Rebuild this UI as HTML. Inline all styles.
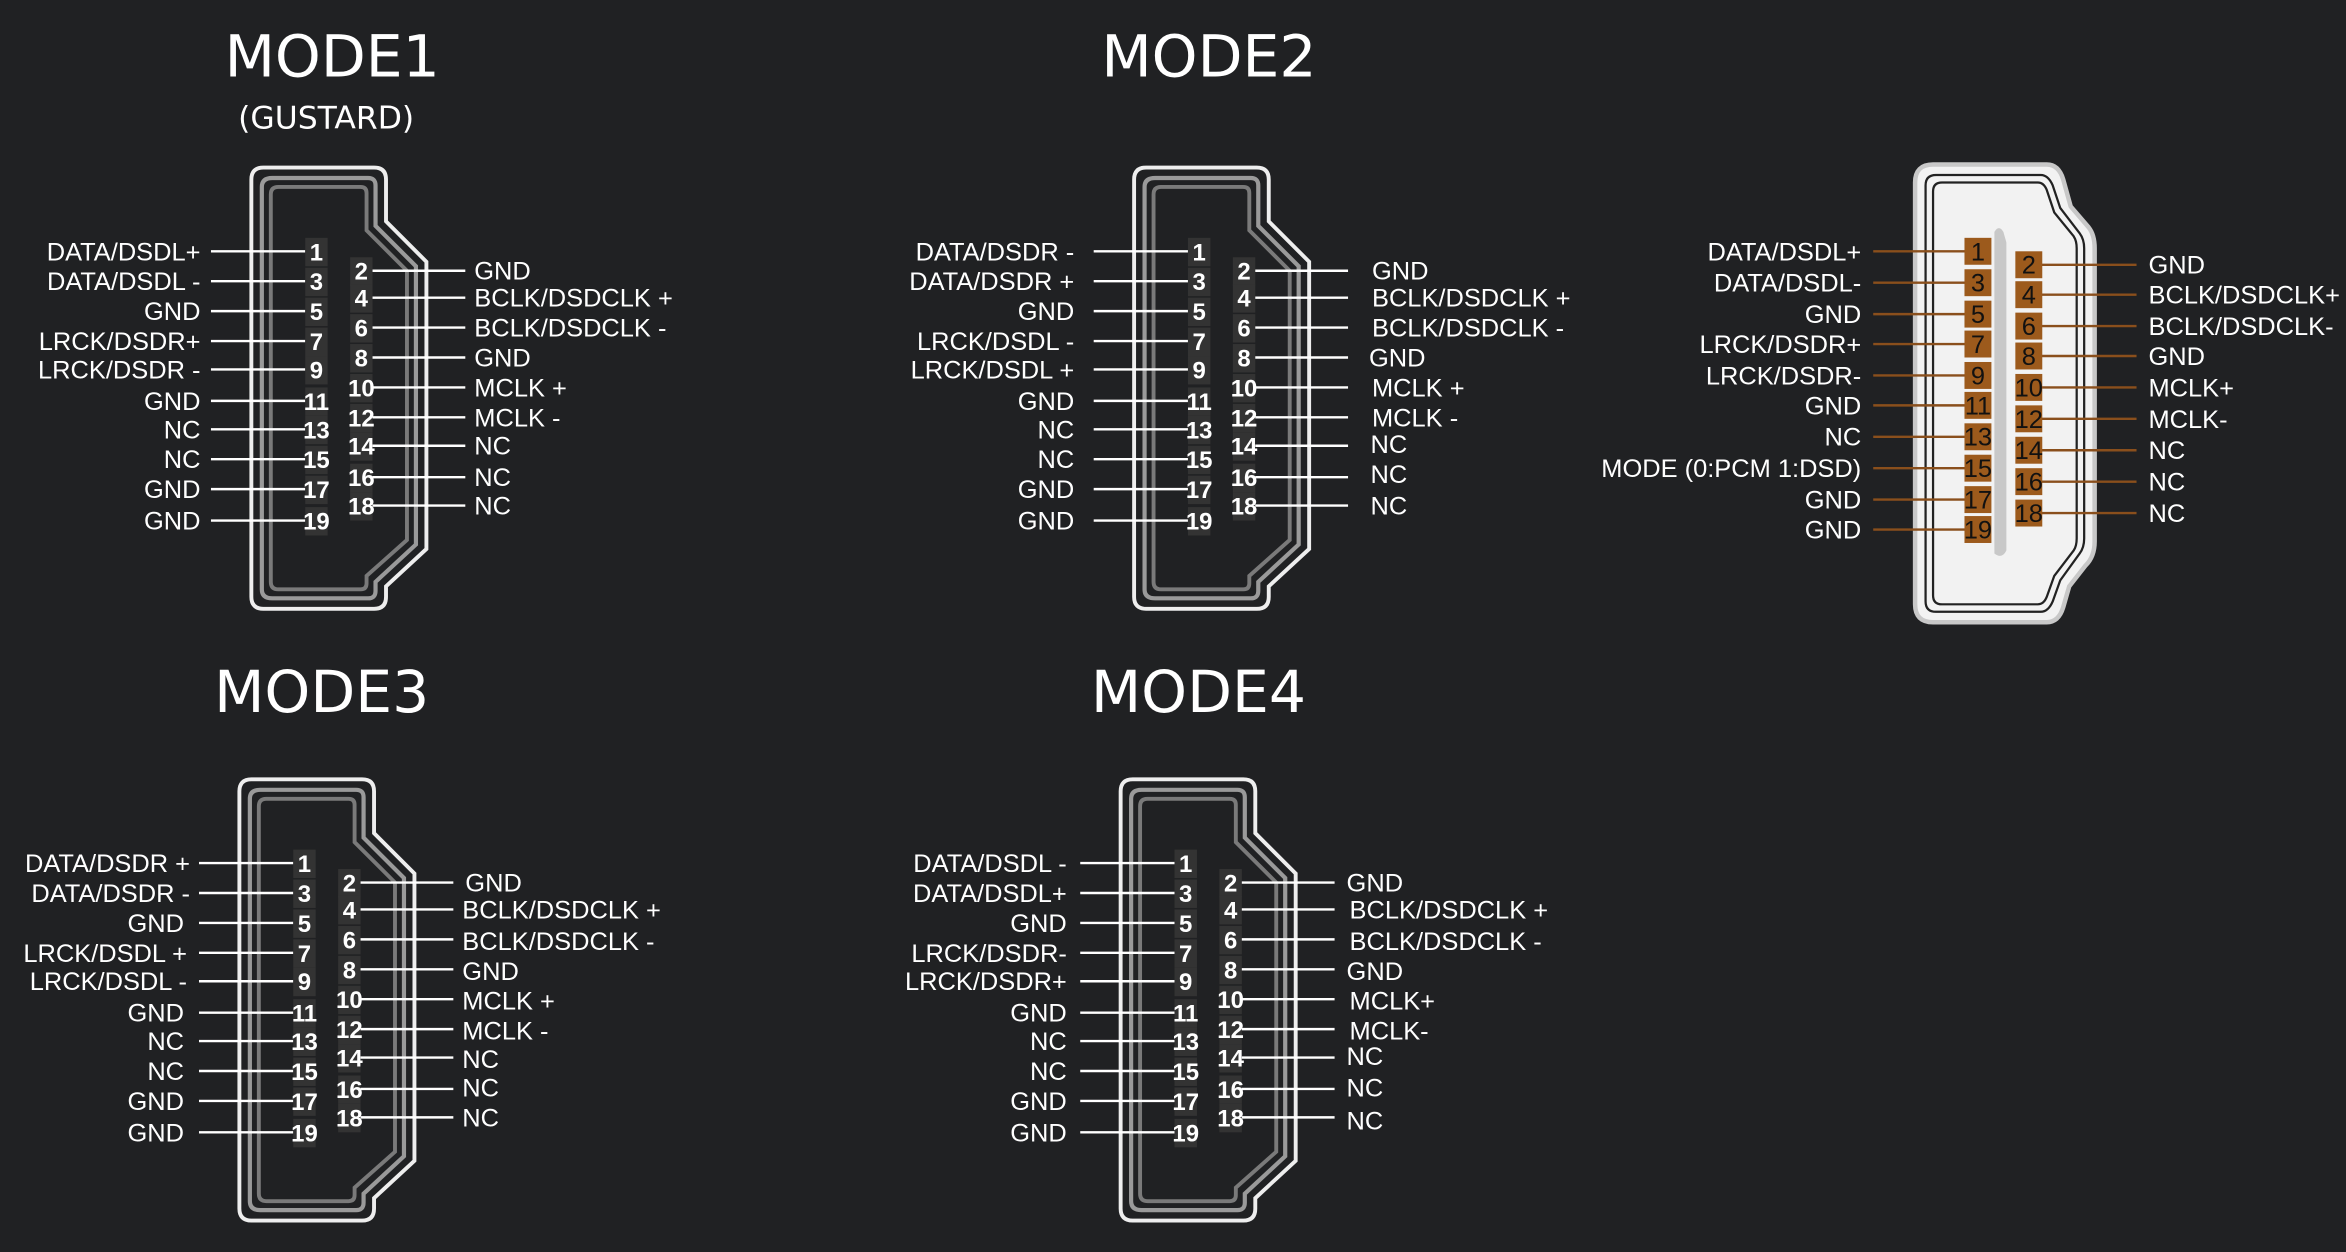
<!DOCTYPE html>
<html><head><meta charset="utf-8"><style>
html,body{margin:0;padding:0;background:#202123;}
svg{display:block}
.t{font-family:"DejaVu Sans","Liberation Sans",sans-serif;fill:#fff;text-anchor:middle}
.l{font-family:"Liberation Sans",sans-serif;font-size:17px;fill:#fff}
.e{text-anchor:end}
.n{font-family:"Liberation Sans",sans-serif;font-size:16px;font-weight:bold;fill:#fff;text-anchor:middle}
.nb{font-family:"Liberation Sans",sans-serif;font-size:17px;fill:#111;text-anchor:middle}
.w{stroke:#fff;stroke-width:1.6}
.b{stroke:#8a4f1c;stroke-width:1.6}
</style></head><body>
<svg width="2346" height="1252" viewBox="0 0 1568 837" preserveAspectRatio="none" xmlns="http://www.w3.org/2000/svg">
<rect width="1568" height="837" fill="#202123"/>
<defs>
<g id="conn">
<path d="M8,0 H82 Q90,0 90,8 V36 L117,63 V255 L90,280 V287 Q90,295 82,295 H8 Q0,295 0,287 V8 Q0,0 8,0 Z" fill="none" stroke="#eee" stroke-width="2.6"/>
<path d="M14,7 H78 Q83,7 83,12 V39 L110,66 V252 L83,277 V283 Q83,288 78,288 H14 Q7,288 7,282 V13 Q7,7 14,7 Z" fill="none" stroke="#9a9a9a" stroke-width="2.8"/>
<path d="M18,13 H73 Q77,13 77,17 V42 L104,69 V249 L77,273 V278 Q77,282 73,282 H18 Q13,282 13,277 V18 Q13,13 18,13 Z" fill="none" stroke="#7a7a7a" stroke-width="2.6"/>
</g>
<g id="pins">
<g class="w">
<line x1="-27" y1="56" x2="36" y2="56"/><line x1="-27" y1="76" x2="36" y2="76"/><line x1="-27" y1="96" x2="36" y2="96"/><line x1="-27" y1="116" x2="36" y2="116"/><line x1="-27" y1="135" x2="36" y2="135"/><line x1="-27" y1="156" x2="36" y2="156"/><line x1="-27" y1="175" x2="36" y2="175"/><line x1="-27" y1="195" x2="36" y2="195"/><line x1="-27" y1="215" x2="36" y2="215"/><line x1="-27" y1="236" x2="36" y2="236"/>
<line x1="80" y1="69" x2="143" y2="69"/><line x1="80" y1="87" x2="143" y2="87"/><line x1="80" y1="107" x2="143" y2="107"/><line x1="80" y1="127" x2="143" y2="127"/><line x1="80" y1="147" x2="143" y2="147"/><line x1="80" y1="167" x2="143" y2="167"/><line x1="80" y1="186" x2="143" y2="186"/><line x1="80" y1="207" x2="143" y2="207"/><line x1="80" y1="226" x2="143" y2="226"/>
</g>
<g fill="#333">
<rect x="36" y="47" width="15" height="19"/><rect x="36" y="67" width="15" height="19"/><rect x="36" y="87" width="15" height="19"/><rect x="36" y="107" width="15" height="19"/><rect x="36" y="126" width="15" height="19"/><rect x="36" y="147" width="15" height="19"/><rect x="36" y="166" width="15" height="19"/><rect x="36" y="186" width="15" height="19"/><rect x="36" y="206" width="15" height="19"/><rect x="36" y="227" width="15" height="19"/>
<rect x="66" y="60" width="15" height="19"/><rect x="66" y="78" width="15" height="19"/><rect x="66" y="98" width="15" height="19"/><rect x="66" y="118" width="15" height="19"/><rect x="66" y="138" width="15" height="19"/><rect x="66" y="158" width="15" height="19"/><rect x="66" y="177" width="15" height="19"/><rect x="66" y="198" width="15" height="19"/><rect x="66" y="217" width="15" height="19"/>
</g>
</g>
</defs>

<!-- Titles -->
<text class="t" x="222" y="51" font-size="39">MODE1</text>
<text class="t" x="218" y="86" font-size="21">(GUSTARD)</text>
<text class="t" x="808" y="51" font-size="39">MODE2</text>
<text class="t" x="215" y="476" font-size="39">MODE3</text>
<text class="t" x="801" y="476" font-size="39">MODE4</text>

<!-- MODE1 -->
<g transform="translate(168,112)">
<use href="#conn"/><use href="#pins"/>
<g class="n"><text x="43.5" y="62">1</text><text x="43.5" y="82">3</text><text x="43.5" y="102">5</text><text x="43.5" y="122">7</text><text x="43.5" y="141">9</text><text x="43.5" y="162">11</text><text x="43.5" y="181">13</text><text x="43.5" y="201">15</text><text x="43.5" y="221">17</text><text x="43.5" y="242">19</text>
<text x="73.5" y="75">2</text><text x="73.5" y="93">4</text><text x="73.5" y="113">6</text><text x="73.5" y="133">8</text><text x="73.5" y="153">10</text><text x="73.5" y="173">12</text><text x="73.5" y="192">14</text><text x="73.5" y="213">16</text><text x="73.5" y="232">18</text></g>
<g class="l e"><text x="-34" y="62">DATA/DSDL+</text><text x="-34" y="82">DATA/DSDL -</text><text x="-34" y="102">GND</text><text x="-34" y="122">LRCK/DSDR+</text><text x="-34" y="141">LRCK/DSDR -</text><text x="-34" y="162">GND</text><text x="-34" y="181">NC</text><text x="-34" y="201">NC</text><text x="-34" y="221">GND</text><text x="-34" y="242">GND</text></g>
<g class="l"><text x="149" y="75">GND</text><text x="149" y="93">BCLK/DSDCLK +</text><text x="149" y="113">BCLK/DSDCLK -</text><text x="149" y="133">GND</text><text x="149" y="153">MCLK +</text><text x="149" y="173">MCLK -</text><text x="149" y="192">NC</text><text x="149" y="213">NC</text><text x="149" y="232">NC</text></g>
</g>

<!-- MODE2 -->
<g transform="translate(758,112)">
<use href="#conn"/><use href="#pins"/>
<g class="n"><text x="43.5" y="62">1</text><text x="43.5" y="82">3</text><text x="43.5" y="102">5</text><text x="43.5" y="122">7</text><text x="43.5" y="141">9</text><text x="43.5" y="162">11</text><text x="43.5" y="181">13</text><text x="43.5" y="201">15</text><text x="43.5" y="221">17</text><text x="43.5" y="242">19</text>
<text x="73.5" y="75">2</text><text x="73.5" y="93">4</text><text x="73.5" y="113">6</text><text x="73.5" y="133">8</text><text x="73.5" y="153">10</text><text x="73.5" y="173">12</text><text x="73.5" y="192">14</text><text x="73.5" y="213">16</text><text x="73.5" y="232">18</text></g>
<g class="l e"><text x="-40" y="62">DATA/DSDR -</text><text x="-40" y="82">DATA/DSDR +</text><text x="-40" y="102">GND</text><text x="-40" y="122">LRCK/DSDL -</text><text x="-40" y="141">LRCK/DSDL +</text><text x="-40" y="162">GND</text><text x="-40" y="181">NC</text><text x="-40" y="201">NC</text><text x="-40" y="221">GND</text><text x="-40" y="242">GND</text></g>
<g class="l"><text x="159" y="75">GND</text><text x="159" y="93">BCLK/DSDCLK +</text><text x="159" y="113">BCLK/DSDCLK -</text><text x="157" y="133">GND</text><text x="159" y="153">MCLK +</text><text x="159" y="173">MCLK -</text><text x="158" y="191">NC</text><text x="158" y="211">NC</text><text x="158" y="232">NC</text></g>
</g>

<!-- MODE3 -->
<g transform="translate(160,521)">
<use href="#conn"/><use href="#pins"/>
<g class="n"><text x="43.5" y="62">1</text><text x="43.5" y="82">3</text><text x="43.5" y="102">5</text><text x="43.5" y="122">7</text><text x="43.5" y="141">9</text><text x="43.5" y="162">11</text><text x="43.5" y="181">13</text><text x="43.5" y="201">15</text><text x="43.5" y="221">17</text><text x="43.5" y="242">19</text>
<text x="73.5" y="75">2</text><text x="73.5" y="93">4</text><text x="73.5" y="113">6</text><text x="73.5" y="133">8</text><text x="73.5" y="153">10</text><text x="73.5" y="173">12</text><text x="73.5" y="192">14</text><text x="73.5" y="213">16</text><text x="73.5" y="232">18</text></g>
<g class="l e"><text x="-33" y="62">DATA/DSDR +</text><text x="-33" y="82">DATA/DSDR -</text><text x="-37" y="102">GND</text><text x="-35" y="122">LRCK/DSDL +</text><text x="-35" y="141">LRCK/DSDL -</text><text x="-37" y="162">GND</text><text x="-37" y="181">NC</text><text x="-37" y="201">NC</text><text x="-37" y="221">GND</text><text x="-37" y="242">GND</text></g>
<g class="l"><text x="151" y="75">GND</text><text x="149" y="93">BCLK/DSDCLK +</text><text x="149" y="114">BCLK/DSDCLK -</text><text x="149" y="134">GND</text><text x="149" y="154">MCLK +</text><text x="149" y="174">MCLK -</text><text x="149" y="193">NC</text><text x="149" y="212">NC</text><text x="149" y="232">NC</text></g>
</g>

<!-- MODE4 -->
<g transform="translate(749,521)">
<use href="#conn"/><use href="#pins"/>
<g class="n"><text x="43.5" y="62">1</text><text x="43.5" y="82">3</text><text x="43.5" y="102">5</text><text x="43.5" y="122">7</text><text x="43.5" y="141">9</text><text x="43.5" y="162">11</text><text x="43.5" y="181">13</text><text x="43.5" y="201">15</text><text x="43.5" y="221">17</text><text x="43.5" y="242">19</text>
<text x="73.5" y="75">2</text><text x="73.5" y="93">4</text><text x="73.5" y="113">6</text><text x="73.5" y="133">8</text><text x="73.5" y="153">10</text><text x="73.5" y="173">12</text><text x="73.5" y="192">14</text><text x="73.5" y="213">16</text><text x="73.5" y="232">18</text></g>
<g class="l e"><text x="-36" y="62">DATA/DSDL -</text><text x="-36" y="82">DATA/DSDL+</text><text x="-36" y="102">GND</text><text x="-36" y="122">LRCK/DSDR-</text><text x="-36" y="141">LRCK/DSDR+</text><text x="-36" y="162">GND</text><text x="-36" y="181">NC</text><text x="-36" y="201">NC</text><text x="-36" y="221">GND</text><text x="-36" y="242">GND</text></g>
<g class="l"><text x="151" y="75">GND</text><text x="153" y="93">BCLK/DSDCLK +</text><text x="153" y="114">BCLK/DSDCLK -</text><text x="151" y="134">GND</text><text x="153" y="154">MCLK+</text><text x="153" y="174">MCLK-</text><text x="151" y="191">NC</text><text x="151" y="212">NC</text><text x="151" y="234">NC</text></g>
</g>

<!-- Right connector -->
<g transform="translate(1280,110)">
<path d="M12,0 H88 Q96,0 99,10 L104,28 L116,42 Q120,47 120,56 V252 Q120,262 114,268 L103,282 L99,296 Q96,306 88,306 H12 Q0,306 0,294 V12 Q0,0 12,0 Z" fill="#f2f2f2" stroke="#c8c8c8" stroke-width="3"/>
<path d="M14,7 H84 Q89,7 92,14 L97,29 L110,46 Q113,50 113,56 V250 Q113,256 110,260 L97,278 L92,292 Q89,299 84,299 H14 Q7,299 7,292 V14 Q7,7 14,7 Z" fill="none" stroke="#222" stroke-width="1.5"/>
<path d="M18,12 H82 Q86,12 88,17 L93,32 L106,48 Q108,51 108,56 V250 Q108,255 106,258 L93,275 L88,289 Q86,294 82,294 H18 Q12,294 12,288 V18 Q12,12 18,12 Z" fill="none" stroke="#222" stroke-width="1.5"/>
<path d="M53,45 Q56,40 59,45 L61,52 V258 Q58,264 53,260 Z" fill="#c8c8c8"/>
</g>
<g class="b">
<line x1="1252" y1="168" x2="1322" y2="168"/><line x1="1252" y1="189" x2="1322" y2="189"/><line x1="1252" y1="210" x2="1322" y2="210"/><line x1="1252" y1="230" x2="1322" y2="230"/><line x1="1252" y1="251" x2="1322" y2="251"/><line x1="1252" y1="271" x2="1322" y2="271"/><line x1="1252" y1="292" x2="1322" y2="292"/><line x1="1252" y1="313" x2="1322" y2="313"/><line x1="1252" y1="334" x2="1322" y2="334"/><line x1="1252" y1="354" x2="1322" y2="354"/>
<line x1="1355" y1="177" x2="1428" y2="177"/><line x1="1355" y1="197" x2="1428" y2="197"/><line x1="1355" y1="218" x2="1428" y2="218"/><line x1="1355" y1="238" x2="1428" y2="238"/><line x1="1355" y1="259" x2="1428" y2="259"/><line x1="1355" y1="280" x2="1428" y2="280"/><line x1="1355" y1="301" x2="1428" y2="301"/><line x1="1355" y1="322" x2="1428" y2="322"/><line x1="1355" y1="343" x2="1428" y2="343"/>
</g>
<g fill="#9c5a1c">
<rect x="1313" y="159" width="18" height="18"/><rect x="1313" y="180" width="18" height="18"/><rect x="1313" y="201" width="18" height="18"/><rect x="1313" y="221" width="18" height="18"/><rect x="1313" y="242" width="18" height="18"/><rect x="1313" y="262" width="18" height="18"/><rect x="1313" y="283" width="18" height="18"/><rect x="1313" y="304" width="18" height="18"/><rect x="1313" y="325" width="18" height="18"/><rect x="1313" y="345" width="18" height="18"/>
<rect x="1347" y="168" width="18" height="18"/><rect x="1347" y="188" width="18" height="18"/><rect x="1347" y="209" width="18" height="18"/><rect x="1347" y="229" width="18" height="18"/><rect x="1347" y="250" width="18" height="18"/><rect x="1347" y="271" width="18" height="18"/><rect x="1347" y="292" width="18" height="18"/><rect x="1347" y="313" width="18" height="18"/><rect x="1347" y="334" width="18" height="18"/>
</g>
<g class="nb">
<text x="1322" y="174">1</text><text x="1322" y="195">3</text><text x="1322" y="216">5</text><text x="1322" y="236">7</text><text x="1322" y="257">9</text><text x="1322" y="277">11</text><text x="1322" y="298">13</text><text x="1322" y="319">15</text><text x="1322" y="340">17</text><text x="1322" y="360">19</text>
<text x="1356" y="183">2</text><text x="1356" y="203">4</text><text x="1356" y="224">6</text><text x="1356" y="244">8</text><text x="1356" y="265">10</text><text x="1356" y="286">12</text><text x="1356" y="307">14</text><text x="1356" y="328">16</text><text x="1356" y="349">18</text>
</g>
<g class="l e">
<text x="1244" y="174">DATA/DSDL+</text><text x="1244" y="195">DATA/DSDL-</text><text x="1244" y="216">GND</text><text x="1244" y="236">LRCK/DSDR+</text><text x="1244" y="257">LRCK/DSDR-</text><text x="1244" y="277">GND</text><text x="1244" y="298">NC</text><text x="1244" y="319">MODE (0:PCM 1:DSD)</text><text x="1244" y="340">GND</text><text x="1244" y="360">GND</text>
</g>
<g class="l">
<text x="1436" y="183">GND</text><text x="1436" y="203">BCLK/DSDCLK+</text><text x="1436" y="224">BCLK/DSDCLK-</text><text x="1436" y="244">GND</text><text x="1436" y="265">MCLK+</text><text x="1436" y="286">MCLK-</text><text x="1436" y="307">NC</text><text x="1436" y="328">NC</text><text x="1436" y="349">NC</text>
</g>
</svg>
</body></html>
